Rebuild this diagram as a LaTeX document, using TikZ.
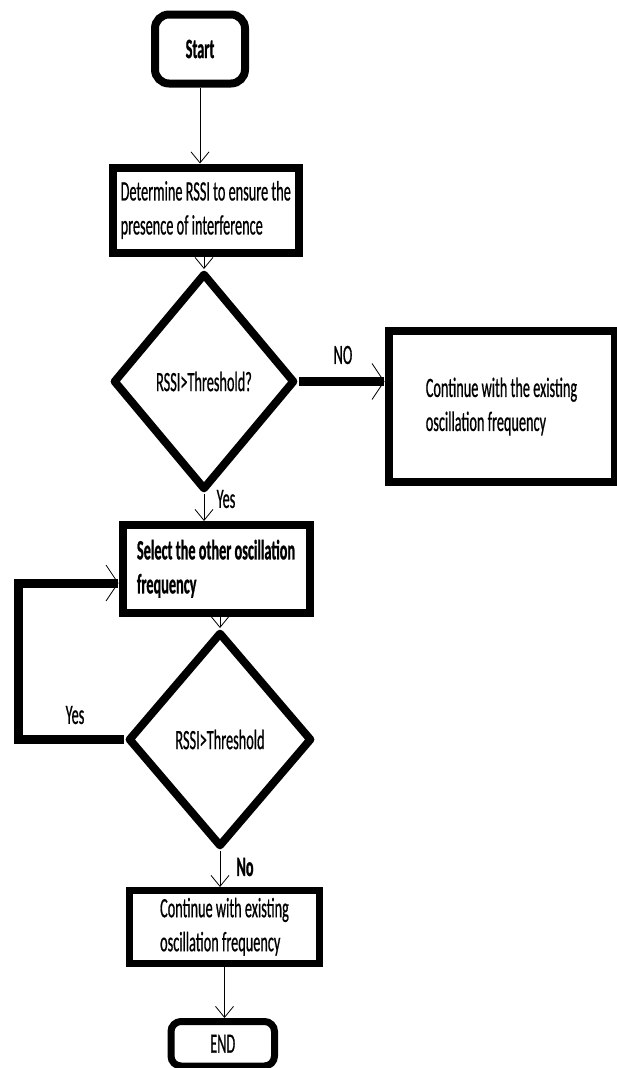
\documentclass[tikz,border=0pt]{standalone}
\usepackage{fontspec}
\newfontfamily\cfr[FakeStretch=0.51, FakeBold=0.6]{Carlito}
\newfontfamily\cfb[FakeStretch=0.51, FakeBold=0.8]{Carlito Bold}
\usetikzlibrary{shapes.geometric,arrows.meta}
\begin{document}
\begin{tikzpicture}[x=1pt,y=-1pt,
  txt/.style={font=\cfr\fontsize{28}{34}\selectfont},
  btxt/.style={font=\cfb\fontsize{28}{34}\selectfont},
  box/.style={draw, line width=8pt, inner sep=0pt, align=left, txt},
  dia/.style={diamond, draw, line width=8pt, line join=round, inner sep=0pt, txt},
  arr/.style={line width=0.8pt, -{Straight Barb[length=11pt,width=18pt]}},
  harr/.style={line width=9pt, -{Straight Barb[length=12pt,width=36pt,line width=0.8pt]}}
]
\useasboundingbox (0,0) rectangle (616,1068);

\node[box, btxt, rounded corners=14pt, minimum width=90pt, minimum height=69pt] (start) at (200,49) {Start};
\node[box, minimum width=185.5pt, minimum height=85pt] (det) at (205.75,210) {Determine RSSI to ensure the\\presence of interference};
\node[dia, minimum width=182pt, minimum height=217pt] (d1) at (204,381.5) {RSSI>Threshold?};
\node[box, minimum width=226pt, minimum height=151pt] (cont1) at (501.5,406.5) {Continue with the existing\\oscillation frequency};
\node[box, btxt, minimum width=187pt, minimum height=87.5pt] (sel) at (216,568.75) {Select the other oscillation\\frequency};
\node[dia, minimum width=184pt, minimum height=215pt] (d2) at (220,739.5) {RSSI>Threshold};
\node[box, line width=7pt, minimum width=190pt, minimum height=72.5pt] (cont2) at (224.5,926.75) {Continue with existing\\oscillation frequency};
\node[box, rounded corners=10pt, line width=7pt, minimum width=103.5pt, minimum height=44.5pt] (end) at (222.75,1043.75) {END};

\node[txt] (no1) at (343,355) {NO};
\node[txt] (yes1) at (226,499) {Yes};
\node[txt] (yes2) at (75,715) {Yes};
\node[btxt] (no2) at (245,867) {No};

\draw[arr] (start.south) -- (start.south |- det.north);
\draw[arr] (d1.north |- det.south) -- (d1.north);
\draw[harr] (d1.east) -- (d1.east -| cont1.west);
\draw[arr] (d1.south) -- (d1.south |- sel.north);
\draw[arr] (d2.north |- sel.south) -- (d2.north);
\coordinate (lx) at (18,583);
\draw[harr] (d2.west) -| (lx) -- (lx -| sel.west);
\draw[arr] (d2.south) -- (d2.south |- cont2.north);
\draw[arr] (cont2.south) -- (cont2.south |- end.north);
\end{tikzpicture}
\end{document}
